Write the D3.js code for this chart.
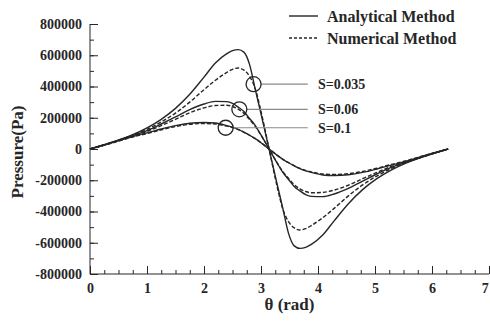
<!DOCTYPE html>
<html><head><meta charset="utf-8">
<script src="https://cdn.jsdelivr.net/npm/d3@7"></script>
<style>
html,body{margin:0;padding:0;background:#fff;}
svg{display:block;font-family:"Liberation Serif","Times New Roman",serif;font-weight:bold;}
</style></head>
<body><svg id="chart" width="490" height="324"></svg>
<script>
const theta = [0,0.25,0.5,0.75,1,1.25,1.5,1.75,2,2.2,2.4,2.5,2.6,2.7,2.8,2.9,3,3.1416,3.283,3.383,3.483,3.583,3.683,3.783,3.883,4.083,4.283,4.533,4.783,5.033,5.283,5.533,5.783,6.033,6.2832];
const analyticalS035 = [0,28000,58000,92000,135000,190000,260000,350000,460000,550000,610000,630000,636000,620000,540000,380000,225000,0,-225000,-380000,-540000,-620000,-636000,-630000,-610000,-550000,-460000,-350000,-260000,-190000,-135000,-92000,-58000,-28000,0];
const numericalS035 = [0,27000,56000,88000,126000,173000,230000,300000,380000,440000,490000,510000,518000,505000,465000,385000,240000,0,-240000,-385000,-465000,-505000,-518000,-510000,-490000,-440000,-380000,-300000,-230000,-173000,-126000,-88000,-56000,-27000,0];
const analyticalS06 = [0,27000,55000,86000,118000,160000,205000,252000,288000,305000,303000,292000,268000,240000,195000,150000,90000,0,-90000,-150000,-195000,-240000,-268000,-292000,-303000,-305000,-288000,-252000,-205000,-160000,-118000,-86000,-55000,-27000,0];
const numericalS06 = [0,26000,54000,83000,112000,150000,190000,232000,263000,278000,280000,272000,255000,228000,188000,145000,88000,0,-88000,-145000,-188000,-228000,-255000,-272000,-280000,-278000,-263000,-232000,-190000,-150000,-112000,-83000,-54000,-26000,0];
const analyticalS1 = [0,25000,52000,80000,103000,128000,150000,165000,170000,166000,150000,140000,126000,108000,88000,66000,40000,0,-40000,-66000,-88000,-108000,-126000,-140000,-150000,-166000,-170000,-165000,-150000,-128000,-103000,-80000,-52000,-25000,0];
const numericalS1 = [0,24000,50000,77000,99000,123000,144000,158000,163000,160000,146000,137000,124000,107000,88000,66000,40000,0,-40000,-66000,-88000,-107000,-124000,-137000,-146000,-160000,-163000,-158000,-144000,-123000,-99000,-77000,-50000,-24000,0];

const xTickValues = [0,1,2,3,4,5,6,7];
const yTickValues = [-800000,-600000,-400000,-200000,0,200000,400000,600000,800000];
const legendLabels = ["Analytical Method","Numerical Method"];
const sLabels = ["S=0.035","S=0.06","S=0.1"];
const sTheta = [2.87,2.62,2.38];
const sPressure = [415000,254000,136000];

const svg = d3.select("#chart");
const x = d3.scaleLinear().domain([0,7]).range([90,489]);
const y = d3.scaleLinear().domain([-800000,800000]).range([274,24]);
const ink = "#262626";

// axes
const xMinor = d3.range(0,7.001,0.25);
const yMinor = d3.range(-800000,800001,100000);
const gx = svg.append("g").attr("transform","translate(0,"+y(-800000)+")");
gx.call(d3.axisBottom(x).tickValues(xMinor).tickSize(-4).tickFormat(""));
gx.selectAll(".tick line").attr("stroke",ink);
gx.select(".domain").remove();
const gx2 = svg.append("g").attr("transform","translate(0,"+y(-800000)+")");
gx2.call(d3.axisBottom(x).tickValues(xTickValues).tickSize(-8).tickPadding(9).tickFormat(d=>String(d)));
gx2.select(".domain").attr("stroke",ink).attr("d","M"+x(0)+",0H"+x(7));
gx2.selectAll(".tick line").attr("stroke",ink);
gx2.selectAll(".tick text").attr("font-size",14).attr("font-family","Liberation Serif").attr("font-weight","bold").attr("fill",ink)
  .attr("dx",d=>d===7?"-0.3em":null);

const gy = svg.append("g").attr("transform","translate("+x(0)+",0)");
gy.call(d3.axisLeft(y).tickValues(yMinor).tickSize(-4).tickFormat(""));
gy.select(".domain").remove();
gy.selectAll(".tick line").attr("stroke",ink);
const gy2 = svg.append("g").attr("transform","translate("+x(0)+",0)");
gy2.call(d3.axisLeft(y).tickValues(yTickValues).tickSize(-8).tickPadding(8).tickFormat(d=>String(d)));
gy2.select(".domain").attr("stroke",ink).attr("d","M0,"+y(800000)+"V"+y(-800000));
gy2.selectAll(".tick line").attr("stroke",ink);
gy2.selectAll(".tick text").attr("font-size",14).attr("font-family","Liberation Serif").attr("font-weight","bold").attr("fill",ink);

// curves
const line = d3.line().x((d,i)=>x(theta[i])).y(d=>y(d)).curve(d3.curveMonotoneX);
const series = [
  {v:analyticalS035,dash:null},{v:numericalS035,dash:"4,2"},
  {v:analyticalS06,dash:null},{v:numericalS06,dash:"4,2"},
  {v:analyticalS1,dash:null},{v:numericalS1,dash:"4,2"}
];
series.forEach(s=>{
  svg.append("path").attr("d",line(s.v)).attr("fill","none")
    .attr("stroke",ink).attr("stroke-width",1.4)
    .attr("stroke-dasharray",s.dash);
});

// annotations
sLabels.forEach((lab,i)=>{
  const cx = x(sTheta[i]), cy = y(sPressure[i]);
  svg.append("line").attr("x1",cx+7.5).attr("x2",x(3.82)).attr("y1",cy).attr("y2",cy)
    .attr("stroke","#8a8a8a").attr("stroke-width",1.2);
  svg.append("circle").attr("cx",cx).attr("cy",cy).attr("r",7.5)
    .attr("fill","none").attr("stroke",ink).attr("stroke-width",1.3);
  svg.append("text").attr("x",x(4.0)).attr("y",cy).attr("dy","0.35em")
    .attr("font-size",14).attr("fill",ink).text(lab);
});

// legend
legendLabels.forEach((lab,i)=>{
  const ly = 16 + i*22;
  svg.append("line").attr("x1",289).attr("x2",318).attr("y1",ly).attr("y2",ly)
    .attr("stroke",ink).attr("stroke-width",1.4)
    .attr("stroke-dasharray",i===1?"3,2":null);
  svg.append("text").attr("x",327).attr("y",ly).attr("dy","0.35em")
    .attr("font-size",16).attr("fill",ink).text(lab);
});

// axis titles
svg.append("text").attr("x",(x(0)+x(7))/2).attr("y",310).attr("text-anchor","middle")
  .attr("font-size",17).attr("fill",ink).text("θ (rad)");
svg.append("text").attr("transform","translate(23,152) rotate(-90)").attr("text-anchor","middle")
  .attr("font-size",17).attr("fill",ink).text("Pressure(Pa)");
</script></body></html>
